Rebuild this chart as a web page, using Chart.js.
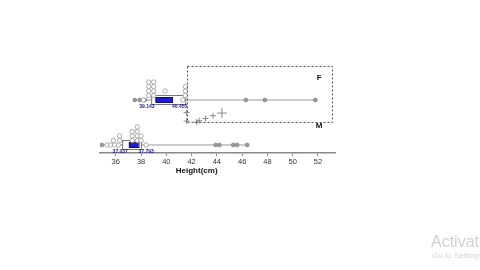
<!DOCTYPE html>
<html>
<head>
<meta charset="utf-8">
<script src="https://cdn.jsdelivr.net/npm/chart.js@4"></script>
<style>
  html, body { margin: 0; padding: 0; background: #fff; overflow: hidden; }
  #wrap { position: relative; width: 480px; height: 270px; overflow: hidden; }
  .wm1 { position: absolute; left: 431px; top: 233px; font: 16px "Liberation Sans", Arial, sans-serif; color: #d0d0d0; white-space: nowrap; }
  .wm2 { position: absolute; left: 432px; top: 251px; font: 8px "Liberation Sans", Arial, sans-serif; color: #d4d4d4; white-space: nowrap; }
</style>
</head>
<body>
<div id="wrap">
  <canvas id="chart" width="480" height="270"></canvas>
  <div class="wm1">Activate Windows</div>
  <div class="wm2">Go to Settings to activate Windows.</div>
</div>
<script>
// x axis ticks (cm)
const xTicks = [36, 38, 40, 42, 44, 46, 48, 50, 52];

// groups: F on the upper row, M on the lower row (row = stack level of baseline)
const groups = ['F', 'M'];
const rowLevel = [10, 0];
const whiskerLow = [37.5, 34.9];
const whiskerHigh = [51.8, 46.4];
const boxLow = [38.8, 36.5];
const boxHigh = [41.5, 38.0];
const ciLow = [39.143, 37.037];
const ciHigh = [40.455, 37.793];

// small filled points sitting on the whisker lines
const fLineX = [37.5, 37.9, 38.3, 46.3, 47.8, 51.8];
const mLineX = [34.9, 43.9, 44.2, 45.3, 45.6, 46.4];

// stacked open circles (value, stack level above the row)
const fDotX = [38.2, 38.6, 38.6, 38.6, 38.6, 39.0, 39.0, 39.0, 39.0, 39.9, 41.3, 41.5, 41.5, 41.5];
const fDotLevel = [0, 1, 2, 3, 4, 1, 2, 3, 4, 2, 0, 1, 2, 3];
const mDotX = [35.3, 35.6, 35.9, 36.2, 35.8, 36.3, 36.3, 37.3, 37.3, 37.3, 37.7, 37.7, 37.7, 37.7, 38.0, 38.0, 38.4];
const mDotLevel = [0, 0, 0, 0, 1, 1, 2, 1, 2, 3, 1, 2, 3, 4, 1, 2, 0];

// plus markers in the dashed panel
const crossX = [41.6, 41.6, 42.4, 42.6, 43.1, 43.7, 44.4];
const crossLevel = [5.3, 7.2, 5.1, 5.4, 5.9, 6.5, 7.1];

// dashed panel extent (value range, level range)
const panelX = [41.6, 53.1];
const panelLevel = [5.1, 17.6];

const whiskerData = [];
groups.forEach((g, i) => {
  if (i > 0) whiskerData.push({ x: null, y: null });
  whiskerData.push({ x: whiskerLow[i], y: rowLevel[i] });
  whiskerData.push({ x: whiskerHigh[i], y: rowLevel[i] });
});

const linePts = fLineX.map(v => ({ x: v, y: rowLevel[0] }))
  .concat(mLineX.map(v => ({ x: v, y: rowLevel[1] })));
const dotPts = fDotX.map((v, i) => ({ x: v, y: rowLevel[0] + fDotLevel[i] }))
  .concat(mDotX.map((v, i) => ({ x: v, y: rowLevel[1] + mDotLevel[i] })));
const crossPts = crossX.map((v, i) => ({ x: v, y: crossLevel[i] }));

const FONT = '"Liberation Sans", Arial, sans-serif';

const boxPlugin = {
  id: 'boxes',
  afterDatasetDraw(chart, args) {
    if (args.index !== 0) return;
    const { ctx, scales: { x, y } } = chart;
    ctx.save();
    groups.forEach((g, i) => {
      const yc = y.getPixelForValue(rowLevel[i]);
      const l = x.getPixelForValue(boxLow[i]);
      const r = x.getPixelForValue(boxHigh[i]);
      ctx.fillStyle = '#fff';
      ctx.strokeStyle = '#777';
      ctx.lineWidth = 1;
      ctx.fillRect(l, yc - 5, r - l, 9);
      ctx.strokeRect(l + 0.5, yc - 4.5, r - l, 9);
      const cl = x.getPixelForValue(ciLow[i]);
      const cr = x.getPixelForValue(ciHigh[i]);
      ctx.fillStyle = '#1f1fd0';
      ctx.strokeStyle = '#0a0a80';
      ctx.fillRect(cl, yc - 3, cr - cl, 5);
      ctx.strokeRect(cl + 0.5, yc - 2.5, cr - cl, 5);
    });
    ctx.restore();
  },
  afterDraw(chart) {
    const { ctx, scales: { x, y } } = chart;
    ctx.save();
    // value labels
    ctx.font = 'bold 5px ' + FONT;
    ctx.fillStyle = '#1a1a8c';
    ctx.textBaseline = 'middle';
    groups.forEach((g, i) => {
      const yc = y.getPixelForValue(rowLevel[i]) + 7;
      ctx.textAlign = 'right';
      ctx.fillText(ciLow[i].toFixed(3), x.getPixelForValue(ciLow[i]) - 1, yc);
      ctx.textAlign = 'left';
      ctx.fillText(ciHigh[i].toFixed(3), x.getPixelForValue(ciHigh[i]), yc);
    });
    // dashed panel
    ctx.strokeStyle = '#555';
    ctx.lineWidth = 1;
    ctx.setLineDash([2, 2]);
    const px0 = Math.round(x.getPixelForValue(panelX[0])) + 0.5;
    const px1 = Math.round(x.getPixelForValue(panelX[1])) + 0.5;
    const py0 = Math.round(y.getPixelForValue(panelLevel[1])) + 0.5;
    const py1 = Math.round(y.getPixelForValue(panelLevel[0])) + 0.5;
    ctx.strokeRect(px0, py0, px1 - px0, py1 - py0);
    ctx.setLineDash([]);
    // group labels
    ctx.fillStyle = '#111';
    ctx.font = 'bold 8px ' + FONT;
    ctx.textAlign = 'center';
    ctx.fillText('F', x.getPixelForValue(52.1), y.getPixelForValue(14.9));
    ctx.fillText('M', x.getPixelForValue(52.1), y.getPixelForValue(4.2));
    // axis title
    ctx.font = 'bold 8px ' + FONT;
    ctx.fillText('Height(cm)', x.getPixelForValue(42.4), chart.chartArea.bottom + 18);
    ctx.restore();
  }
};

new Chart(document.getElementById('chart'), {
  type: 'scatter',
  data: {
    datasets: [
      {
        type: 'line',
        data: whiskerData,
        borderColor: '#999',
        borderWidth: 1,
        pointRadius: 0,
        spanGaps: false,
        order: 10
      },
      {
        data: linePts,
        pointStyle: 'circle',
        pointRadius: 2,
        backgroundColor: '#999',
        borderColor: '#777',
        borderWidth: 0.5,
        order: 2
      },
      {
        data: dotPts,
        pointStyle: 'circle',
        pointRadius: 2.2,
        backgroundColor: '#fff',
        borderColor: '#999',
        borderWidth: 0.8,
        order: 1
      },
      {
        data: crossPts,
        pointStyle: 'cross',
        pointRadius: c => (c.dataIndex === crossPts.length - 1 ? 5 : 3),
        borderColor: '#888',
        borderWidth: 1,
        order: 0
      }
    ]
  },
  options: {
    responsive: false,
    animation: false,
    devicePixelRatio: 1,
    layout: { padding: { left: 100, right: 145, top: 60, bottom: 87 } },
    plugins: { legend: { display: false }, tooltip: { enabled: false } },
    scales: {
      x: {
        type: 'linear',
        min: 34.75,
        max: 53.35,
        afterBuildTicks: s => { s.ticks = xTicks.map(v => ({ value: v })); },
        afterFit: s => { s.height = 30; },
        grid: { display: true, drawOnChartArea: false, drawTicks: true, tickLength: 3, color: '#888' },
        border: { display: true, color: '#888', width: 1.5 },
        ticks: { padding: 1, color: '#333', font: { size: 7.5, family: FONT } }
      },
      y: {
        display: false,
        min: -1.78,
        max: 18.9
      }
    }
  },
  plugins: [boxPlugin]
});
</script>
</body>
</html>
